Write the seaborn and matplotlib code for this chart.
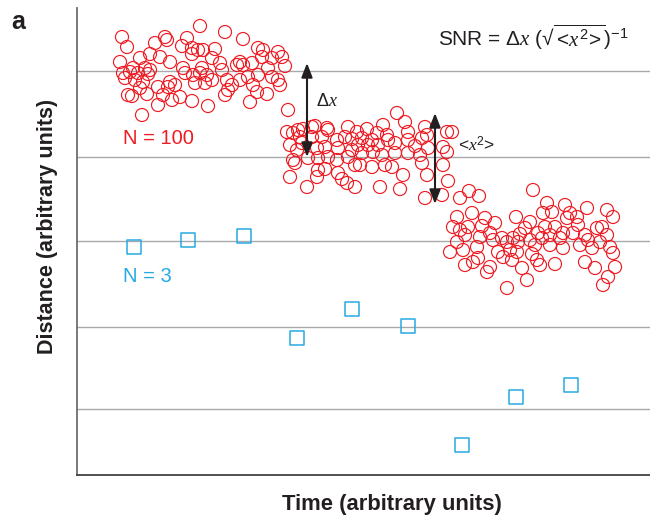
import matplotlib
matplotlib.use("Agg")
import matplotlib.pyplot as plt
import seaborn as sns
import pandas as pd

# ---------------- data (time, distance in arbitrary units) ----------------
c1_time = [122, 127, 200, 165, 167, 155, 187, 182, 192, 198, 192, 150, 160, 140, 170, 120,
           133, 145, 150, 123, 130, 138, 148, 183, 185, 193, 200, 125, 135, 143, 170, 175,
           168, 158, 195, 140, 147, 128, 132, 163, 180, 172, 158, 192, 142, 208,
           225, 243, 203, 215, 212, 202, 220, 222, 258, 263, 278, 282, 272, 262, 285, 240,
           237, 243, 252, 268, 258, 248, 272, 278, 280, 207, 212, 205, 227, 232, 228, 225,
           240, 253, 257, 267, 250, 288]
c1_dist = [438, 428, 449, 438, 435, 432, 437, 429, 427, 425, 421, 421, 418, 417, 413, 413,
           407, 407, 405, 402, 403, 402, 401, 407, 402, 400, 402, 397, 395, 393, 393, 390,
           388, 388, 392, 387, 381, 380, 379, 380, 378, 375, 370, 374, 360, 369,
           443, 436, 425, 426, 417, 407, 412, 405, 427, 425, 423, 418, 417, 418, 409, 413,
           410, 410, 412, 407, 400, 398, 398, 395, 390, 400, 395, 392, 395, 390, 385, 380,
           395, 390, 383, 381, 373, 365]

c2_time = [287, 298, 303, 312, 315, 327, 328, 348, 357, 293, 300, 312, 322, 337, 345, 352,
           290, 302, 297, 317, 325, 338, 352, 293, 295, 308, 318, 328, 337, 348, 355, 318,
           325, 317, 338, 342, 347, 290, 307, 355,
           397, 405, 383, 367, 377, 387, 408, 425, 427, 362, 372, 388, 408, 422, 358, 368,
           378, 395, 415, 428, 362, 373, 382, 395, 408, 420, 360, 372, 385, 392, 422, 403,
           427, 380, 400, 425, 447, 452, 443, 447, 443]
c2_dist = [343, 345, 346, 348, 349, 347, 345, 348, 343, 342, 338, 338, 338, 335, 338, 336,
           330, 332, 325, 327, 328, 327, 325, 315, 312, 317, 317, 318, 315, 318, 310, 305,
           306, 298, 302, 296, 292, 298, 288, 288,
           362, 353, 350, 346, 342, 340, 343, 348, 340, 337, 335, 335, 335, 337, 330, 330,
           330, 332, 329, 327, 322, 323, 320, 322, 322, 320, 310, 308, 310, 308, 312, 300,
           300, 288, 286, 277, 343, 343, 328, 323, 310]

c3_time = [448, 442, 460, 469, 479, 533, 472, 457, 516, 485, 495, 482, 530, 453, 468, 460,
           525, 490, 520, 465, 480, 502, 513, 457, 493, 507, 518, 530, 477, 450, 463, 498,
           510, 517, 532, 503, 478, 473, 465, 512, 490, 487, 522, 527, 507,
           547, 565, 587, 607, 613, 543, 552, 570, 577, 567, 545, 555, 578, 597, 602, 538,
           550, 563, 573, 585, 607, 542, 560, 588, 600, 535, 550, 563, 580, 592, 610, 613,
           537, 540, 555, 585, 595, 615, 608, 603]
c3_dist = [294, 280, 277, 284, 279, 285, 262, 258, 258, 257, 252, 249, 253, 248, 248, 245,
           247, 242, 241, 240, 238, 237, 237, 233, 235, 233, 233, 235, 228, 223, 225, 223,
           225, 223, 221, 218, 217, 213, 210, 215, 208, 203, 207, 195, 187,
           272, 270, 267, 265, 258, 262, 263, 262, 258, 257, 248, 248, 250, 247, 248, 242,
           240, 242, 242, 240, 240, 237, 237, 235, 233, 230, 230, 227, 230, 227, 228, 222,
           215, 210, 211, 213, 207, 208, 198, 190]

n3_time = [134, 188, 244, 297, 352, 408, 462, 516, 571]
n3_dist = [228, 235, 239, 137, 166, 149, 30, 78, 90]

grid_levels = [66, 148, 234, 318, 404]

RED = "#ED1C24"
BLUE = "#27AAE1"
DARK = "#231F20"

sns.set_theme(style="white")
plt.rcParams["font.family"] = ["Liberation Sans", "DejaVu Sans"]
plt.rcParams["mathtext.fontset"] = "custom"
plt.rcParams["mathtext.rm"] = "Liberation Sans"
plt.rcParams["mathtext.it"] = "Liberation Serif:italic"
plt.rcParams["mathtext.bf"] = "Liberation Sans:bold"

red_df = pd.DataFrame({"time": c1_time + c2_time + c3_time,
                       "dist": c1_dist + c2_dist + c3_dist})
blue_df = pd.DataFrame({"time": n3_time, "dist": n3_dist})

fig = plt.figure(figsize=(6.5, 5.17), dpi=100)
ax = fig.add_axes([77 / 650, 42 / 517, 573 / 650, 467 / 517])

sns.scatterplot(data=red_df, x="time", y="dist", marker="o", s=88, ax=ax, zorder=3)
coll = ax.collections[-1]
coll.set_facecolor("none")
coll.set_edgecolor(RED)
coll.set_linewidth(0.85)

sns.scatterplot(data=blue_df, x="time", y="dist", marker="s", s=105, ax=ax, zorder=3)
coll = ax.collections[-1]
coll.set_facecolor("none")
coll.set_edgecolor(BLUE)
coll.set_linewidth(1.1)

ax.set_xlim(77, 650)
ax.set_ylim(0, 467)
ax.set_yticks(grid_levels)
ax.set_xticks([])
ax.set_yticklabels([])
ax.tick_params(axis="both", length=0)
ax.grid(axis="y", color="#A7A9AC", linewidth=1.0)
ax.set_axisbelow(True)

for side in ["top", "right"]:
    ax.spines[side].set_visible(False)
ax.spines["left"].set_color("#6D6E71")
ax.spines["left"].set_linewidth(1.3)
ax.spines["bottom"].set_color("#414042")
ax.spines["bottom"].set_linewidth(1.3)

ax.set_xlabel("Time (arbitrary units)", fontsize=15.8, fontweight="bold",
              color=DARK, labelpad=14)
ax.set_ylabel("Distance (arbitrary units)", fontsize=15.5, fontweight="bold",
              color=DARK, labelpad=10)
ax.xaxis.set_label_coords(0.55, -0.04)
ax.yaxis.label.set_position((0, 0.533))

# arrows
arrow_kw = dict(arrowstyle="<|-|>,head_length=0.85,head_width=0.33", color=DARK,
                lw=1.5, mutation_scale=10, shrinkA=0, shrinkB=0)
ax.annotate("", xy=(307, 412), xytext=(307, 318), arrowprops=arrow_kw)
ax.annotate("", xy=(435, 362), xytext=(435, 271), arrowprops=arrow_kw)

ax.text(316, 374, r"Δ$\mathit{x}$", fontsize=13, color=DARK, va="center", ha="left")
ax.text(458, 330, r"<$\mathit{x}^2$>", fontsize=12.5, color=DARK, va="center", ha="left")
ax.text(123, 337, "N = 100", fontsize=14.5, color=RED, va="center", ha="left")
ax.text(123, 198, "N = 3", fontsize=14.5, color=BLUE, va="center", ha="left")
ax.text(438, 438,
        r"SNR = Δ$\mathit{x}$ (√$\overline{<\!\mathit{x}^{2}\!>}$)$^{-1}$",
        fontsize=15, color=DARK, va="center", ha="left")

fig.text(18 / 650, 1 - 22 / 517, "a", fontsize=18, fontweight="bold",
         color=DARK, ha="center", va="center")

fig.savefig("out.png", dpi=100)
